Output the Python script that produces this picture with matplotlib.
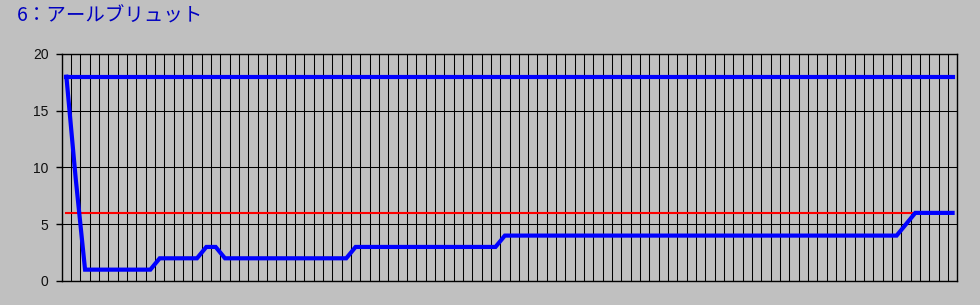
import numpy as np
import matplotlib
matplotlib.use('Agg')
import matplotlib.pyplot as plt

plt.rcParams['font.family'] = ['Noto Sans CJK JP', 'DejaVu Sans']

title = '6：アールブリュット'

# main series, one value per category (96 categories)
values = [18, 9, 1, 1, 1, 1, 1, 1, 1, 1,
          2, 2, 2, 2, 2, 3, 3, 2, 2, 2,
          2, 2, 2, 2, 2, 2, 2, 2, 2, 2,
          2, 3, 3, 3, 3, 3, 3, 3, 3, 3,
          3, 3, 3, 3, 3, 3, 3, 4, 4, 4,
          4, 4, 4, 4, 4, 4, 4, 4, 4, 4,
          4, 4, 4, 4, 4, 4, 4, 4, 4, 4,
          4, 4, 4, 4, 4, 4, 4, 4, 4, 4,
          4, 4, 4, 4, 4, 4, 4, 4, 4, 4,
          5, 6, 6, 6, 6, 6]

# upper line
upper = [18, 18, 18, 18, 18, 18, 18, 18, 18, 18,
         18, 18, 18, 18, 18, 18, 18, 18, 18, 18,
         18, 18, 18, 18, 18, 18, 18, 18, 18, 18,
         18, 18, 18, 18, 18, 18, 18, 18, 18, 18,
         18, 18, 18, 18, 18, 18, 18, 18, 18, 18,
         18, 18, 18, 18, 18, 18, 18, 18, 18, 18,
         18, 18, 18, 18, 18, 18, 18, 18, 18, 18,
         18, 18, 18, 18, 18, 18, 18, 18, 18, 18,
         18, 18, 18, 18, 18, 18, 18, 18, 18, 18,
         18, 18, 18, 18, 18, 18]

# red reference line (ends where main series reaches it)
target = [6, 6, 6, 6, 6, 6, 6, 6, 6, 6,
          6, 6, 6, 6, 6, 6, 6, 6, 6, 6,
          6, 6, 6, 6, 6, 6, 6, 6, 6, 6,
          6, 6, 6, 6, 6, 6, 6, 6, 6, 6,
          6, 6, 6, 6, 6, 6, 6, 6, 6, 6,
          6, 6, 6, 6, 6, 6, 6, 6, 6, 6,
          6, 6, 6, 6, 6, 6, 6, 6, 6, 6,
          6, 6, 6, 6, 6, 6, 6, 6, 6, 6,
          6, 6, 6, 6, 6, 6, 6, 6, 6, 6,
          6, 6]

yticks = [0, 5, 10, 15, 20]

bg = '#c0c0c0'
fig = plt.figure(figsize=(9.8, 3.05), dpi=100, facecolor=bg)
ax = fig.add_axes([0.063, 0.0787, 0.9138, 0.7443])
ax.set_facecolor(bg)

n = len(values)
ax.plot(np.arange(len(target)), target, color='#ff0000', lw=1.5, zorder=3)
ax.plot(np.arange(n), upper, color='#0000ff', lw=3, zorder=4, solid_joinstyle='miter')
ax.plot(np.arange(n), values, color='#0000ff', lw=3, zorder=4, solid_joinstyle='miter')

ax.set_xlim(-0.5, n - 0.5)
ax.set_ylim(0, 20)
ax.set_xticks(np.arange(-0.5, n, 1.0))
ax.set_xticklabels([])
ax.tick_params(axis='x', length=0)
ax.set_yticks(yticks)
ax.set_yticklabels([str(t) for t in yticks], fontsize=10, color='#101010',
                   family=['Liberation Sans', 'DejaVu Sans'])
ax.tick_params(axis='y', length=4.5, width=1, color='black', pad=5)
ax.grid(True, color='black', lw=0.75, zorder=1)
for s in ax.spines.values():
    s.set_color('black')
    s.set_linewidth(1)

fig.text(0.0177, 0.93, title, color='#0000c0', fontsize=14, va='baseline', ha='left')

fig.savefig('out.png', dpi=100, facecolor=bg)
